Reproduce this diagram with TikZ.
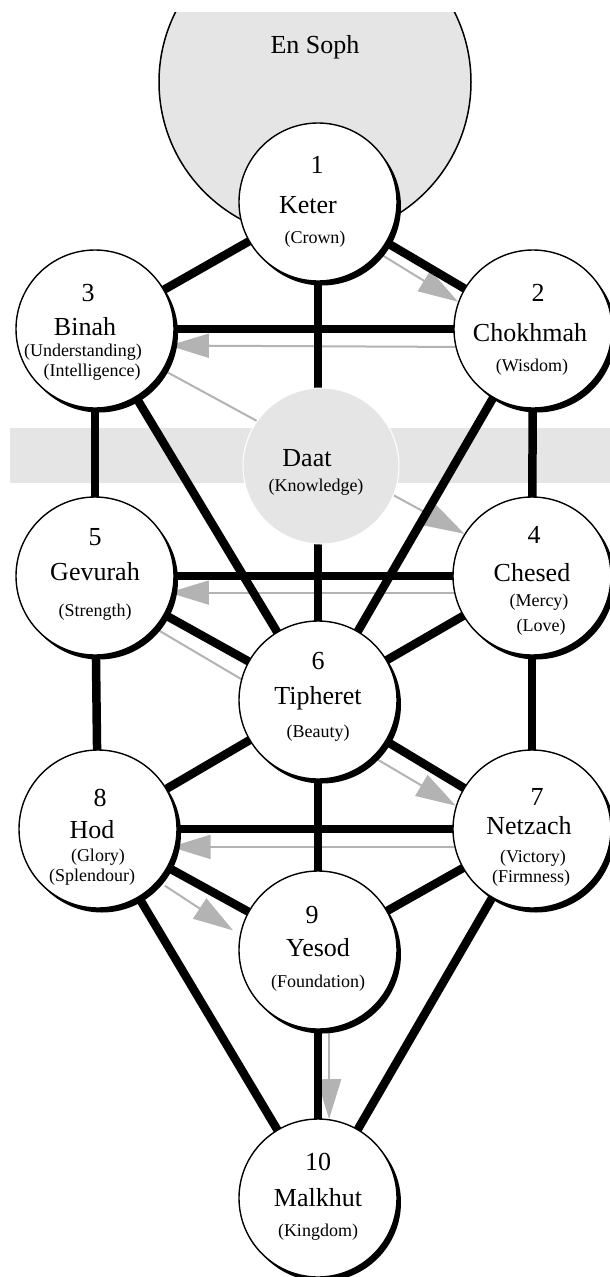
\documentclass[tikz,border=0pt]{standalone}
\usepackage{fontspec}
\setmainfont{Liberation Serif}
\usetikzlibrary{arrows.meta,calc,shadows}
\pgfdeclarelayer{back}
\pgfdeclarelayer{links}
\pgfsetlayers{back,links,main}
\definecolor{bandgray}{HTML}{E5E5E5}
\definecolor{flash}{HTML}{B3B3B3}
\begin{document}
\begin{tikzpicture}[x=1pt,y=-1pt,
  sef/.style={circle, draw=black, line width=1.4pt, fill=white, minimum size=158pt, inner sep=0pt,
    drop shadow={shadow xshift=4pt, shadow yshift=-4.5pt, fill=black, opacity=1}},
  daatstyle/.style={circle, draw=white, line width=1pt, fill=bandgray, minimum size=156pt, inner sep=0pt},
  link/.style={draw=black, line width=8.5pt},
  flashline/.style={draw=flash, line width=2pt, -{Triangle[length=40pt,width=24pt]}},
  big/.style={font=\fontsize{26}{30}\selectfont, inner sep=0pt},
  small/.style={font=\fontsize{18}{21}\selectfont, inner sep=0pt}]
\useasboundingbox (0,0) rectangle (610,1277);

% background band and En Soph
\begin{pgfonlayer}{back}
  \fill[bandgray] (10,428) rectangle (610,483);
  \begin{scope}
    \clip (0,12) rectangle (610,1277);
    \node[circle, draw=black, line width=1.5pt, fill=bandgray, minimum size=312pt, inner sep=0pt] (ensoph) at (315,82) {};
  \end{scope}
  \node[big] (ensophtext) at (315,47) {En Soph};
\end{pgfonlayer}

% sefirot
\node[sef] (keter) at (318,202) {};
\node[sef] (chokhmah) at (533,329) {};
\node[sef] (binah) at (95,329) {};
\node[sef] (chesed) at (532,576) {};
\node[sef] (gevurah) at (95,576) {};
\node[sef] (tipheret) at (318,700) {};
\node[sef] (netzach) at (532,829) {};
\node[sef] (hod) at (98,829) {};
\node[sef] (yesod) at (318,950) {};
\node[sef] (malkhut) at (318,1198) {};
\node[daatstyle] (daat) at (321,466) {};

% paths
\begin{pgfonlayer}{links}
  % lightning flash
  \draw[flashline] (keter.-40) -- (chokhmah.160);
  \draw[flashline, shorten >=-4pt] (chokhmah.193) -- (binah.-12);
  \draw[flashline] (binah.-31) -- (chesed.148);
  \draw[flashline, shorten >=-4pt] (chesed.192) -- (gevurah.-12);
  \draw[flashline] (gevurah.-41) -- (netzach.163);
  \draw[flashline, shorten >=-5pt] (netzach.193) -- (hod.-13);
  \draw[flashline, shorten <=8pt, shorten >=8pt] (hod.-41) -- (yesod.169);
  \draw[flashline] (yesod.-82) -- (malkhut.82);
  % the 22 paths
  \draw[link] (keter.center) -- (chokhmah.center);
  \draw[link] (keter.center) -- (binah.center);
  \draw[link] (keter.center) -- (tipheret.center);
  \draw[link] (binah.center) -- (chokhmah.center);
  \draw[link] (binah.center) -- (gevurah.center);
  \draw[link] (binah.center) -- (tipheret.center);
  \draw[link] (chokhmah.center) -- (chesed.center);
  \draw[link] (chokhmah.center) -- (tipheret.center);
  \draw[link] (gevurah.center) -- (chesed.center);
  \draw[link] (gevurah.center) -- (tipheret.center);
  \draw[link] (chesed.center) -- (tipheret.center);
  \draw[link] (gevurah.center) -- (hod.center);
  \draw[link] (chesed.center) -- (netzach.center);
  \draw[link] (tipheret.center) -- (hod.center);
  \draw[link] (tipheret.center) -- (netzach.center);
  \draw[link] (tipheret.center) -- (yesod.center);
  \draw[link] (hod.center) -- (netzach.center);
  \draw[link] (hod.center) -- (yesod.center);
  \draw[link] (netzach.center) -- (yesod.center);
  \draw[link] (hod.center) -- (malkhut.center);
  \draw[link] (netzach.center) -- (malkhut.center);
  \draw[link] (yesod.center) -- (malkhut.center);
\end{pgfonlayer}

% labels
\node[big] (n1) at (317,165) {1};
\node[big] (l1) at (308,205) {Keter};
\node[small] (s1) at (315,239) {(Crown)};

\node[big] (n2) at (538,293) {2};
\node[big] (l2) at (530,333) {Chokhmah};
\node[small] (s2) at (532,367) {(Wisdom)};

\node[big] (n3) at (88,293) {3};
\node[big] (l3) at (85,327) {Binah};
\node[small] (s3a) at (83,352) {(Understanding)};
\node[small] (s3b) at (92,372) {(Intelligence)};

\node[big] (ld) at (307,458) {Daat};
\node[small] (sd) at (316,487) {(Knowledge)};

\node[big] (n4) at (534,535) {4};
\node[big] (l4) at (532,573) {Chesed};
\node[small] (s4a) at (539,602) {(Mercy)};
\node[small] (s4b) at (541,627) {(Love)};

\node[big] (n5) at (95,537) {5};
\node[big] (l5) at (95,572) {Gevurah};
\node[small] (s5) at (95,612) {(Strength)};

\node[big] (n6) at (318,661) {6};
\node[big] (l6) at (318,698) {Tipheret};
\node[small] (s6) at (318,733) {(Beauty)};

\node[big] (n7) at (537,797) {7};
\node[big] (l7) at (529,826) {Netzach};
\node[small] (s7a) at (533,858) {(Victory)};
\node[small] (s7b) at (531,878) {(Firmness)};

\node[big] (n8) at (100,798) {8};
\node[big] (l8) at (92,830) {Hod};
\node[small] (s8a) at (98,857) {(Glory)};
\node[small] (s8b) at (92,877) {(Splendour)};

\node[big] (n9) at (312,915) {9};
\node[big] (l9) at (318,948) {Yesod};
\node[small] (s9) at (318,983) {(Foundation)};

\node[big] (n10) at (318,1162) {10};
\node[big] (l10) at (318,1198) {Malkhut};
\node[small] (s10) at (318,1232) {(Kingdom)};
\end{tikzpicture}
\end{document}
